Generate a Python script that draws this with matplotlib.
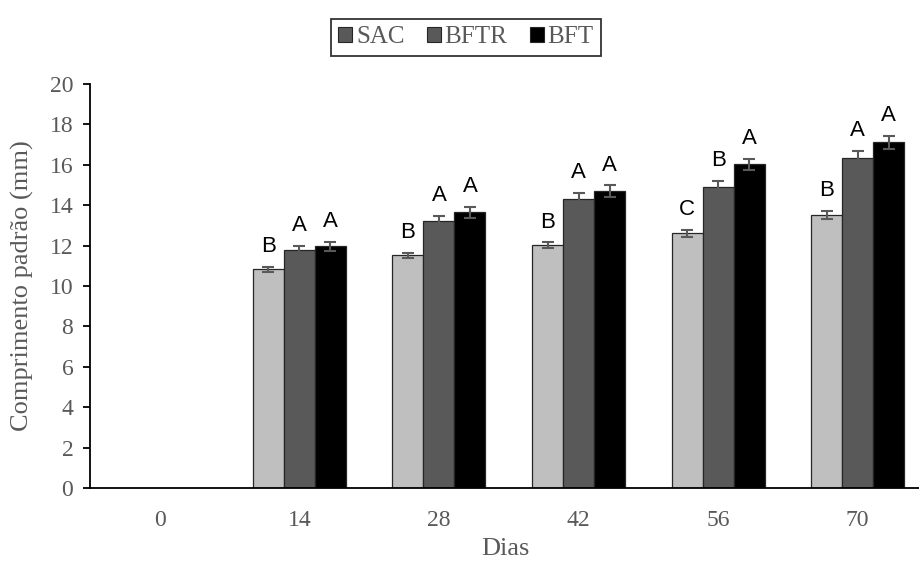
import matplotlib
matplotlib.use("Agg")
import matplotlib.pyplot as plt
from matplotlib.patches import Patch
import numpy as np

days = ["0", "14", "28", "42", "56", "70"]
series_names = ["SAC", "BFTR", "BFT"]
sac = [np.nan, 10.83, 11.52, 12.03, 12.61, 13.53]
bftr = [np.nan, 11.78, 13.23, 14.31, 14.92, 16.35]
bft = [np.nan, 11.96, 13.65, 14.70, 16.02, 17.11]
sac_err = [0, 0.13, 0.12, 0.13, 0.16, 0.20]
bftr_err = [0, 0.20, 0.26, 0.30, 0.30, 0.35]
bft_err = [0, 0.22, 0.27, 0.28, 0.28, 0.31]
sac_letters = ["", "B", "B", "B", "C", "B"]
bftr_letters = ["", "A", "A", "A", "B", "A"]
bft_letters = ["", "A", "A", "A", "A", "A"]

colors = ["#BFBFBF", "#595959", "#000000"]
legend_colors = ["#595959", "#595959", "#000000"]
gray_text = "#595959"

fig = plt.figure(figsize=(9.2, 5.68), dpi=100)
ax = fig.add_axes([90/920, 80/568, 830/920, 404/568])

x = np.arange(len(days))
w = 0.222
vals = [sac, bftr, bft]
errs = [sac_err, bftr_err, bft_err]
letters = [sac_letters, bftr_letters, bft_letters]
for i in range(3):
    xs = x + (i - 1) * w
    ax.bar(xs, vals[i], width=w, color=colors[i], edgecolor="#262626", linewidth=0.9, zorder=2)
    for j in range(len(days)):
        if np.isnan(vals[i][j]):
            continue
        ax.errorbar(xs[j], vals[i][j], yerr=errs[i][j], fmt="none", ecolor="#595959",
                    elinewidth=1.5, capsize=4.5, capthick=1.5, zorder=3)
        ax.annotate(letters[i][j], (xs[j], vals[i][j] + errs[i][j]), xytext=(0, 7),
                    textcoords="offset points", ha="center", va="bottom",
                    fontsize=16, family="Liberation Sans", color="black")

ax.set_xlim(-0.5, 5.446)
ax.set_ylim(0, 20)
ax.set_yticks(np.arange(0, 21, 2))
ax.set_xticks(x)
ax.set_xticklabels(days)
for s in ["top", "right"]:
    ax.spines[s].set_visible(False)
ax.spines["left"].set_color("black")
ax.spines["bottom"].set_color("black")
ax.spines["left"].set_linewidth(1.3)
ax.spines["bottom"].set_linewidth(1.3)
ax.tick_params(axis="x", length=0, pad=16, labelsize=17, labelcolor=gray_text)
ax.tick_params(axis="y", length=5, width=1.3, direction="out", pad=7, labelsize=17, labelcolor=gray_text)
for lab in ax.get_xticklabels() + ax.get_yticklabels():
    lab.set_family("Liberation Serif")

ax.set_ylabel("Comprimento padrão (mm)", family="Liberation Serif", fontsize=19, color=gray_text, labelpad=11)
ax.set_xlabel("Dias", family="Liberation Serif", fontsize=19, color=gray_text, labelpad=5)

handles = [Patch(facecolor=legend_colors[i], edgecolor="#262626", linewidth=0.8, label=series_names[i]) for i in range(3)]
leg = fig.legend(handles=handles, loc="center", bbox_to_anchor=(466/920, 1 - 37/568), ncol=3,
                 prop={"family": "Liberation Serif", "size": 18}, frameon=True, fancybox=False,
                 edgecolor="black", handlelength=0.55, handleheight=0.55, handletextpad=0.15,
                 columnspacing=0.9, borderpad=0.3)
leg.get_frame().set_linewidth(1.3)
for t in leg.get_texts():
    t.set_color(gray_text)

fig.savefig("out.png", dpi=100)
